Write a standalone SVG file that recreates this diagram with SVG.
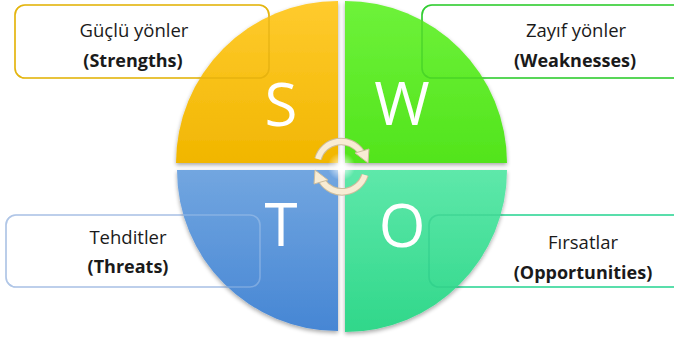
<svg xmlns="http://www.w3.org/2000/svg" width="674" height="338" viewBox="0 0 674 338">
<defs>
<linearGradient id="gS" x1="0" y1="0" x2="0" y2="1"><stop offset="0" stop-color="#FFCB2E"/><stop offset="1" stop-color="#F1B600"/></linearGradient>
<linearGradient id="gW" x1="0" y1="0" x2="0" y2="1"><stop offset="0" stop-color="#6EF23A"/><stop offset="1" stop-color="#52E41C"/></linearGradient>
<linearGradient id="gT" x1="0" y1="0" x2="0" y2="1"><stop offset="0" stop-color="#72A6E0"/><stop offset="1" stop-color="#4686D4"/></linearGradient>
<linearGradient id="gO" x1="0" y1="0" x2="0" y2="1"><stop offset="0" stop-color="#5EE8AA"/><stop offset="1" stop-color="#30D78A"/></linearGradient>
<filter id="sh" x="-10%" y="-10%" width="120%" height="125%"><feGaussianBlur in="SourceAlpha" stdDeviation="2"/><feOffset dx="0" dy="2"/><feComponentTransfer><feFuncA type="linear" slope="0.35"/></feComponentTransfer><feMerge><feMergeNode/><feMergeNode in="SourceGraphic"/></feMerge></filter>
<radialGradient id="glow"><stop offset="0" stop-color="#fff" stop-opacity="0.9"/><stop offset="1" stop-color="#fff" stop-opacity="0"/></radialGradient>
</defs>
<style>
.box{fill:#fff;stroke-width:1.6}
.edge{fill:none;stroke-width:1.6;opacity:0.35}
.t1{font-family:"Open Sans","Liberation Sans",sans-serif;font-size:18.5px;fill:#1a1a1a;text-anchor:middle}
.t2{font-family:"Open Sans","Liberation Sans",sans-serif;font-size:18px;font-weight:bold;fill:#1a1a1a;text-anchor:middle}
.big{font-family:"Open Sans","Liberation Sans",sans-serif;font-size:60px;font-weight:400;fill:#fff;text-anchor:middle}
.arc{fill:none;stroke-linecap:butt}
</style>
<rect width="674" height="338" fill="#fff"/>
<g id="box-strengths"><rect class="box" x="15" y="5" width="254" height="73" rx="10" stroke="#F2C31A"/></g>
<g id="box-weaknesses"><rect class="box" x="422" y="5" width="262" height="73" rx="10" stroke="#3EDD3E"/></g>
<g id="box-threats"><rect class="box" x="6" y="215" width="254" height="72" rx="10" stroke="#A4BCE2"/></g>
<g id="box-opportunities"><rect class="box" x="429" y="215" width="255" height="72" rx="10" stroke="#3FE3A6"/></g>
<g filter="url(#sh)">
<g id="node-S"><path d="M338,163 L176,163 A162,162 0 0 1 338,1 Z" fill="url(#gS)"/><text class="big" x="281" y="126">S</text></g>
<g id="node-W"><path d="M345,163 L345,1 A162,162 0 0 1 507,163 Z" fill="url(#gW)"/><text class="big" x="402" y="125">W</text></g>
<g id="node-T"><path d="M338,170 L338,331 A161,161 0 0 1 177,170 Z" fill="url(#gT)"/><text class="big" x="281" y="246">T</text></g>
<g id="node-O"><path d="M345,170 L507,170 A162,162 0 0 1 345,332 Z" fill="url(#gO)"/><text class="big" x="402" y="247">O</text></g>
</g>
<circle cx="341.5" cy="166.5" r="14" fill="url(#glow)"/>
<rect x="15" y="5" width="254" height="73" rx="10" class="edge" stroke="#C89A00"/>
<rect x="422" y="5" width="262" height="73" rx="10" class="edge" stroke="#20B020"/>
<rect x="6" y="215" width="254" height="72" rx="10" class="edge" stroke="#C8DAF2"/>
<rect x="429" y="215" width="255" height="72" rx="10" class="edge" stroke="#20C080"/>
<g id="connectors">
<path class="arc" d="M318,159 A24,24 0 0 1 361,152" stroke="#CDBD9C" stroke-width="7.5"/>
<path class="arc" d="M318,159 A24,24 0 0 1 361,152" stroke="#F8ECD4" stroke-width="5.5"/>
<polygon points="355,153 369,149 368,163" fill="#F8ECD4" stroke="#CDBD9C" stroke-width="1"/>
<path class="arc" d="M365,175 A24,24 0 0 1 322,181" stroke="#CDBD9C" stroke-width="7.5"/>
<path class="arc" d="M365,175 A24,24 0 0 1 322,181" stroke="#F8ECD4" stroke-width="5.5"/>
<polygon points="328,180 314,184 315,170" fill="#F8ECD4" stroke="#CDBD9C" stroke-width="1"/>
</g>
<g id="labels">
<text class="t1" x="134" y="37">Güçlü yönler</text>
<text class="t2" x="133" y="67">(Strengths)</text>
<text class="t1" x="576" y="37">Zayıf yönler</text>
<text class="t2" x="575" y="67">(Weaknesses)</text>
<text class="t1" x="128" y="244">Tehditler</text>
<text class="t2" x="128" y="273">(Threats)</text>
<text class="t1" x="583" y="249">Fırsatlar</text>
<text class="t2" x="583" y="279">(Opportunities)</text>
</g>
</svg>
